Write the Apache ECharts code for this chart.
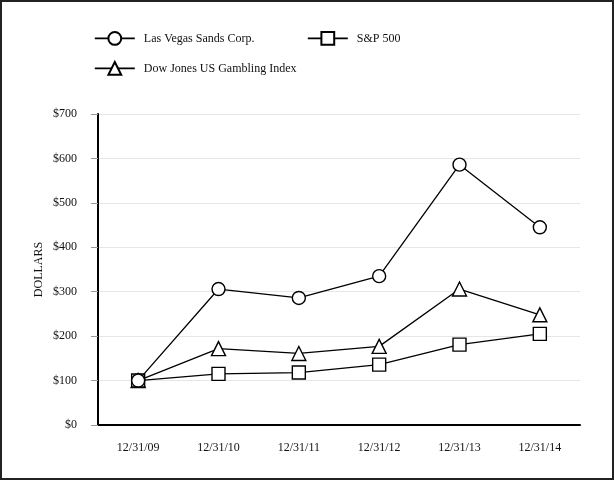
<!DOCTYPE html>
<html><head><meta charset="utf-8">
<script src="https://cdn.jsdelivr.net/npm/echarts@6/dist/echarts.min.js"></script>
<style>
html,body{margin:0;padding:0;background:#fff;}
#wrap{position:absolute;left:0;top:0;width:610px;height:476px;border:2px solid #222;}
#c{width:610px;height:476px;}
</style></head>
<body><div id="wrap"><div id="c"></div></div>
<script>
const categories = ['12/31/09','12/31/10','12/31/11','12/31/12','12/31/13','12/31/14'];
const lvs = [100, 306, 286, 335, 586, 445];
const sp500 = [100, 115, 118, 136, 181, 205];
const djGambling = [100, 172, 161, 177, 306, 248];
const yTicks = [0, 100, 200, 300, 400, 500, 600, 700];

const chart = echarts.init(document.getElementById('c'));
const font = 'Liberation Serif';
const txt = {fontFamily: font, fontSize: 12, color: '#111'};
function ser(name, data, symbol, size, z) {
  return {
    name, type: 'line', data, symbol, symbolSize: size, z,
    lineStyle: {color: '#000', width: 1.3},
    itemStyle: {color: '#fff', borderColor: '#000', borderWidth: 1.4},
    emphasis: {disabled: true}, animation: false
  };
}
function leg(name, left, top) {
  return {
    data: [name], left, top, itemWidth: 40, itemHeight: 16, itemGap: 8,
    lineStyle: {width: 1.6, color: '#000'},
    textStyle: {fontFamily: font, fontSize: 12, color: '#111', padding: [0, 0, 0, 4]}, selectedMode: false
  };
}
chart.setOption({
  animation: false,
  legend: [
    leg('Las Vegas Sands Corp.', 87, 24),
    leg('S&P 500', 300, 24),
    leg('Dow Jones US Gambling Index', 87, 54)
  ],
  grid: {left: 96, right: 32, top: 112, bottom: 53, containLabel: false},
  xAxis: {
    type: 'category', data: categories, boundaryGap: true,
    axisLine: {lineStyle: {color: '#000', width: 2}},
    axisTick: {alignWithLabel: true, length: 5, lineStyle: {color: '#999'}},
    axisLabel: Object.assign({margin: 17}, txt),
    splitLine: {show: false}
  },
  yAxis: {
    type: 'value', min: yTicks[0], max: yTicks[yTicks.length-1], interval: 100,
    name: 'DOLLARS', nameLocation: 'middle', nameGap: 53, nameRotate: 90,
    nameMoveOverlap: false,
    nameTextStyle: {fontFamily: font, fontSize: 12, color: '#111'},
    axisLine: {show: true, lineStyle: {color: '#000', width: 2}},
    axisTick: {show: true, length: 7, lineStyle: {color: '#999'}},
    axisLabel: Object.assign({margin: 21, formatter: v => '$' + v}, txt),
    splitLine: {lineStyle: {color: '#e6e6e6', width: 1}}
  },
  series: [
    ser('Las Vegas Sands Corp.', lvs, 'circle', 13, 5),
    ser('S&P 500', sp500, 'rect', 13, 4),
    ser('Dow Jones US Gambling Index', djGambling, 'triangle', 14, 3)
  ]
});
</script></body></html>
